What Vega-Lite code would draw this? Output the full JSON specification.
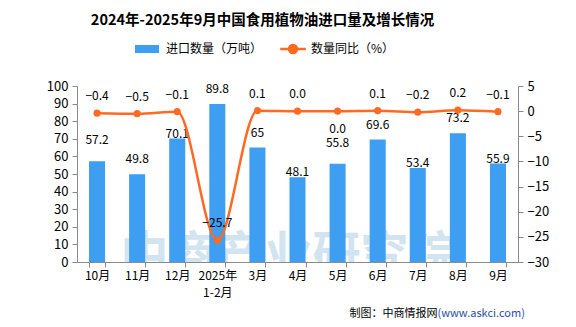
{
  "$schema": "https://vega.github.io/schema/vega-lite/v6.json",
  "width": 441,
  "height": 176,
  "autosize": {"type": "none"},
  "padding": {"left": 77, "top": 86, "right": 58, "bottom": 65},
  "background": "white",
  "config": {
    "view": {"stroke": null},
    "font": "Noto Sans CJK SC",
    "axis": {"domainColor": "#8a8a8a", "tickColor": "#8a8a8a", "labelColor": "#000000", "labelFont": "Noto Sans CJK SC", "titleFont": "Noto Sans CJK SC", "grid": false}
  },
  "title": {
    "text": "2024年-2025年9月中国食用植物油进口量及增长情况",
    "font": "Noto Sans CJK SC",
    "fontSize": 14.5,
    "fontWeight": "bold",
    "color": "#000000",
    "anchor": "middle",
    "frame": "group",
    "dx": -35,
    "offset": 15
  },
  "data": {
    "values": [
      {"month": "10月", "imports": 57.2, "yoy": -0.4},
      {"month": "11月", "imports": 49.8, "yoy": -0.5},
      {"month": "12月", "imports": 70.1, "yoy": -0.1},
      {"month": "2025年1-2月", "imports": 89.8, "yoy": -25.7},
      {"month": "3月", "imports": 65, "yoy": 0.1},
      {"month": "4月", "imports": 48.1, "yoy": 0.0},
      {"month": "5月", "imports": 55.8, "yoy": 0.0},
      {"month": "6月", "imports": 69.6, "yoy": 0.1},
      {"month": "7月", "imports": 53.4, "yoy": -0.2},
      {"month": "8月", "imports": 73.2, "yoy": 0.2},
      {"month": "9月", "imports": 55.9, "yoy": -0.1}
    ]
  },
  "encoding": {
    "x": {
      "field": "month",
      "type": "nominal",
      "sort": null,
      "scale": {"domain": ["10月", "11月", "12月", "2025年1-2月", "3月", "4月", "5月", "6月", "7月", "8月", "9月"], "paddingInner": 0.6, "paddingOuter": 0.3},
      "axis": {
        "title": null,
        "labelAngle": 0,
        "tickBand": "extent",
        "labelExpr": "datum.label == '2025年1-2月' ? ['2025年','1-2月'] : datum.label",
        "labelFontSize": 12,
        "labelPadding": 3,
        "labelLineHeight": 17,
        "labelBaseline": "top",
        "tickSize": 5
      }
    }
  },
  "layer": [
    {
      "encoding": {
        "y": {
          "field": "imports",
          "type": "quantitative",
          "scale": {"domain": [0, 100]},
          "axis": {
            "title": "制图：中商情报网",
            "titleAngle": 0,
            "titleX": 360,
            "titleY": 227,
            "titleAlign": "right",
            "titleBaseline": "middle",
            "titleFontSize": 11,
            "titleFontWeight": "normal",
            "titleColor": "#000000",
            "values": [0, 10, 20, 30, 40, 50, 60, 70, 80, 90, 100],
            "labelFontSize": 13,
            "tickSize": 5,
            "labelPadding": 4
          }
        }
      },
      "layer": [
        {
          "transform": [{"filter": {"field": "month", "equal": "4月"}}],
          "mark": {"type": "text", "text": "中商产业研究院", "fontSize": 48, "fontWeight": "bold", "color": "#d2e4f0", "baseline": "middle", "align": "center", "dx": -9, "clip": true},
          "encoding": {
            "y": {"datum": 3}
          }
        },
        {
          "mark": {"type": "bar"},
          "encoding": {
            "fill": {
              "datum": "进口数量（万吨）",
              "type": "nominal",
              "scale": {"range": ["#3d9ef2"]},
              "legend": {
                "title": null,
                "orient": "none",
                "legendX": 64,
                "legendY": -43,
                "padding": 0,
                "symbolType": "M-3,-1H3V1H-3Z",
                "symbolSize": 64,
                "symbolStrokeWidth": 0,
                "labelOffset": 13,
                "labelFontSize": 12,
                "labelColor": "#000000",
                "labelFont": "Noto Sans CJK SC"
              }
            }
          }
        },
        {
          "transform": [{"filter": {"not": {"field": "month", "oneOf": ["10月", "5月", "12月", "4月", "7月", "9月"]}}}],
          "mark": {"type": "text", "fontSize": 12, "color": "#000000", "baseline": "middle", "dy": -15},
          "encoding": {"text": {"field": "imports"}}
        },
        {
          "transform": [{"filter": {"field": "month", "oneOf": ["10月", "5月"]}}],
          "mark": {"type": "text", "fontSize": 12, "color": "#000000", "baseline": "middle", "dy": -21},
          "encoding": {"text": {"field": "imports"}}
        },
        {
          "transform": [{"filter": {"field": "month", "oneOf": ["12月", "4月", "7月", "9月"]}}],
          "mark": {"type": "text", "fontSize": 12, "color": "#000000", "baseline": "middle", "dy": -5},
          "encoding": {"text": {"field": "imports"}}
        }
      ]
    },
    {
      "encoding": {
        "y": {
          "field": "yoy",
          "type": "quantitative",
          "scale": {"domain": [-30, 5]},
          "axis": {
            "orient": "right",
            "title": "(www.askci.com)",
            "titleAngle": 0,
            "titleX": -81,
            "titleY": 227,
            "titleAlign": "left",
            "titleBaseline": "middle",
            "titleFontSize": 11,
            "titleFontWeight": "normal",
            "titleColor": "#1f4fa0",
            "values": [-30, -25, -20, -15, -10, -5, 0, 5],
            "labelFontSize": 13,
            "tickSize": 5,
            "labelPadding": 4
          }
        }
      },
      "layer": [
        {
          "mark": {"type": "line", "interpolate": "monotone", "strokeWidth": 2.5},
          "encoding": {
            "stroke": {
              "datum": "数量同比（%）",
              "type": "nominal",
              "scale": {"range": ["#ff6a23"]},
              "legend": {
                "title": null,
                "orient": "none",
                "legendX": 210,
                "legendY": -43,
                "padding": 0,
                "symbolType": "M-3.2,0H3.2M1,0A1,1 0 1 1 -1,0A1,1 0 1 1 1,0",
                "symbolSize": 64,
                "symbolStrokeWidth": 2.5,
                "symbolFillColor": "#ff6a23",
                "labelOffset": 12,
                "labelFontSize": 12,
                "labelColor": "#000000",
                "labelFont": "Noto Sans CJK SC"
              }
            }
          }
        },
        {
          "mark": {"type": "circle", "size": 50, "color": "#ff6a23", "opacity": 1}
        },
        {
          "transform": [{"filter": {"field": "month", "equal": "5月"}}],
          "mark": {"type": "text", "fontSize": 12, "color": "#000000", "baseline": "middle", "dy": 18},
          "encoding": {"text": {"field": "yoy", "format": ".1f"}}
        },
        {
          "transform": [{"filter": {"not": {"field": "month", "equal": "5月"}}}],
          "mark": {"type": "text", "fontSize": 12, "color": "#000000", "baseline": "middle", "dy": -17},
          "encoding": {"text": {"field": "yoy", "format": ".1f"}}
        }
      ]
    }
  ],
  "resolve": {"scale": {"y": "independent"}}
}
